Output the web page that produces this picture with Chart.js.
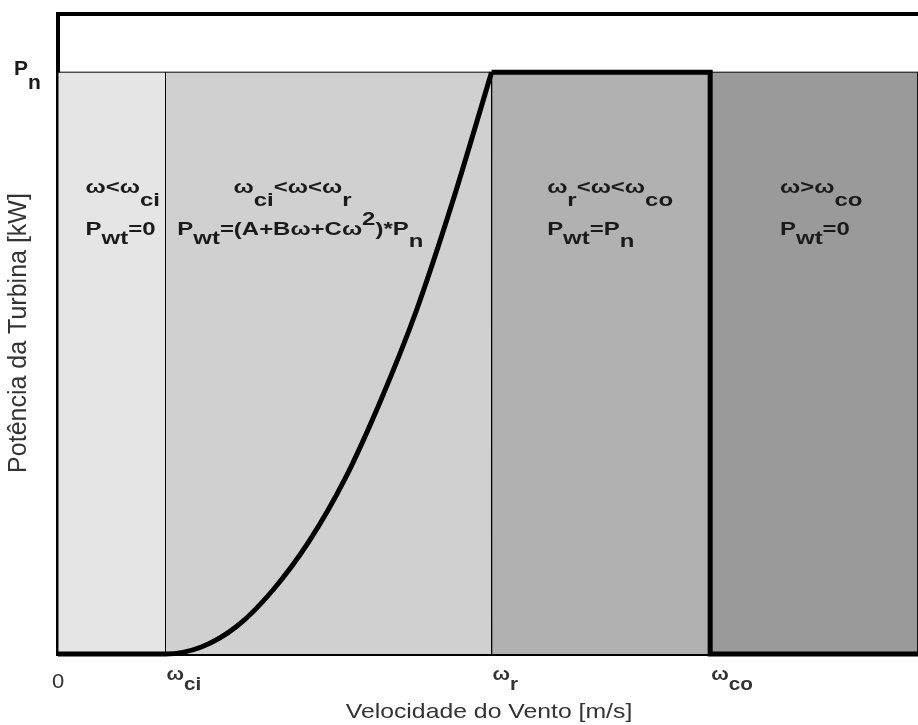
<!DOCTYPE html>
<html>
<head>
<meta charset="utf-8">
<script src="https://cdn.jsdelivr.net/npm/chart.js@4.4.1/dist/chart.umd.min.js"></script>
<style>
	body { margin: 0; background: #fff; }
</style>
</head>
<body>
<canvas id="chart-potencia" width="918" height="725"></canvas>
<script>
// limites das regioes [m/s]: 0, w_ci, w_r, w_co, fim do eixo
var limites = [0, 3, 12.1, 18.2, 24];
var corRegiao = ['#e5e5e5', '#d0d0d0', '#b1b1b1', '#9a9a9a'];

// potencia nominal (fracao de Pn)
var pn = 1;

// curva de potencia entre 0 e w_r
var vento = [0, 3, 4, 5, 6, 7, 8, 9, 10, 11, 12.1];
var potencia = [0, 0, 0.012, 0.048, 0.11, 0.193, 0.30, 0.435, 0.59, 0.775, 1];

// trecho nominal e corte
var ventoNominal = [12.1, 18.2, 18.2, 24];
var potenciaNominal = [1, 1, 0, 0];

// rotulos do eixo x
var rotulosX = [
	[['0', 0]],
	[['ω', 0], ['ci', 10]],
	[['ω', 0], ['r', 10]],
	[['ω', 0], ['co', 10]]
];

// escreve texto com subscrito / sobrescrito (deslocamento em px)
function escreve(ctx, partes, x, y, fonte, sx) {
	ctx.save();
	ctx.font = fonte;
	ctx.translate(x, y);
	ctx.scale(sx, 1);
	var px = 0;
	partes.forEach(function(p) {
		ctx.fillText(p[0], px, p[1]);
		px += ctx.measureText(p[0]).width;
	});
	ctx.restore();
}

var datasets = [];

// regioes sombreadas (desenhadas por baixo)
for (var i = 0; i < 4; i++) {
	datasets.push({
		order: 2,
		data: [
			{x: limites[i], y: 0},
			{x: limites[i], y: pn},
			{x: limites[i + 1], y: pn},
			{x: limites[i + 1], y: 0}
		],
		backgroundColor: corRegiao[i],
		borderColor: '#000',
		borderWidth: 1,
		fill: 'origin',
		pointRadius: 0,
		tension: 0
	});
}

datasets.push({
	order: 1,
	data: vento.map(function(v, k) { return {x: v, y: potencia[k]}; }),
	borderColor: '#000',
	borderWidth: 5,
	fill: false,
	pointRadius: 0,
	cubicInterpolationMode: 'monotone',
	clip: false
});

datasets.push({
	order: 1,
	data: ventoNominal.map(function(v, k) { return {x: v, y: potenciaNominal[k]}; }),
	borderColor: '#000',
	borderWidth: 5,
	borderJoinStyle: 'miter',
	fill: false,
	pointRadius: 0,
	tension: 0,
	clip: false
});

var textos = {
	id: 'textos',
	afterDraw: function(chart) {
		var ctx = chart.ctx;
		var sx = chart.scales.x;
		var sy = chart.scales.y;
		var negrito = 'bold 18px "Liberation Sans", Arial, sans-serif';
		ctx.save();
		ctx.fillStyle = '#1a1a1a';
		ctx.textBaseline = 'alphabetic';

		// regioes
		var rotulos = [
			{x: 0.77, y: 193, partes: [['ω<ω', 0], ['ci', 13]]},
			{x: 0.77, y: 235, partes: [['P', 0], ['wt', 9], ['=0', 0]]},
			{x: 4.9, y: 193, partes: [['ω', 0], ['ci', 13], ['<ω<ω', 0], ['r', 13]]},
			{x: 3.33, y: 235, partes: [['P', 0], ['wt', 9], ['=(A+Bω+Cω', 0], ['2', -10], [')*P', 0], ['n', 12]]},
			{x: 13.65, y: 193, partes: [['ω', 0], ['r', 13], ['<ω<ω', 0], ['co', 13]]},
			{x: 13.65, y: 235, partes: [['P', 0], ['wt', 9], ['=P', 0], ['n', 12]]},
			{x: 20.15, y: 193, partes: [['ω>ω', 0], ['co', 13]]},
			{x: 20.15, y: 235, partes: [['P', 0], ['wt', 9], ['=0', 0]]}
		];
		rotulos.forEach(function(r) {
			escreve(ctx, r.partes, sx.getPixelForValue(r.x), r.y, negrito, 1.33);
		});

		// eixo x
		ctx.fillStyle = '#333';
		escreve(ctx, rotulosX[0], sx.getPixelForValue(limites[0]) - 6, 688, '20px "Liberation Sans", Arial, sans-serif', 1.1);
		for (var k = 1; k < 4; k++) {
			escreve(ctx, rotulosX[k], sx.getPixelForValue(limites[k]) + 1, 680, negrito, 1.15);
		}

		// eixo y: Pn
		ctx.fillStyle = '#1a1a1a';
		escreve(ctx, [['P', 0], ['n', 14]], 14, sy.getPixelForValue(pn) + 3, 'bold 21px "Liberation Sans", Arial, sans-serif', 1.0);

		// titulos dos eixos
		ctx.fillStyle = '#333';
		ctx.font = '21px "Liberation Sans", Arial, sans-serif';
		ctx.save();
		ctx.translate(489, 718);
		ctx.scale(1.18, 1);
		ctx.textAlign = 'center';
		ctx.fillText('Velocidade do Vento [m/s]', 0, 0);
		ctx.restore();

		ctx.save();
		ctx.translate(26, 333);
		ctx.rotate(-Math.PI / 2);
		ctx.font = '25px "Liberation Sans", Arial, sans-serif';
		ctx.textAlign = 'center';
		ctx.fillText('Potência da Turbina [kW]', 0, 0);
		ctx.restore();

		ctx.restore();
	}
};

var eixo = {
	type: 'linear',
	ticks: { display: false },
	grid: { display: false, drawTicks: false },
	border: { display: true, width: 4, color: '#000' }
};

var config = {
	type: 'line',
	data: { datasets: datasets },
	options: {
		responsive: false,
		animation: false,
		layout: { padding: { left: 58, top: 14, right: 0, bottom: 71 } },
		scales: {
			x: Object.assign({}, eixo, { min: 0, max: 24, position: 'bottom' }),
			x2: Object.assign({}, eixo, { min: 0, max: 24, position: 'top' }),
			y: Object.assign({}, eixo, { min: 0, max: 1.1, position: 'left' })
		},
		plugins: {
			legend: { display: false },
			tooltip: { enabled: false }
		}
	},
	plugins: [textos]
};

var ctx = document.getElementById('chart-potencia').getContext('2d');
window.chartPotencia = new Chart(ctx, config);
</script>
</body>
</html>
